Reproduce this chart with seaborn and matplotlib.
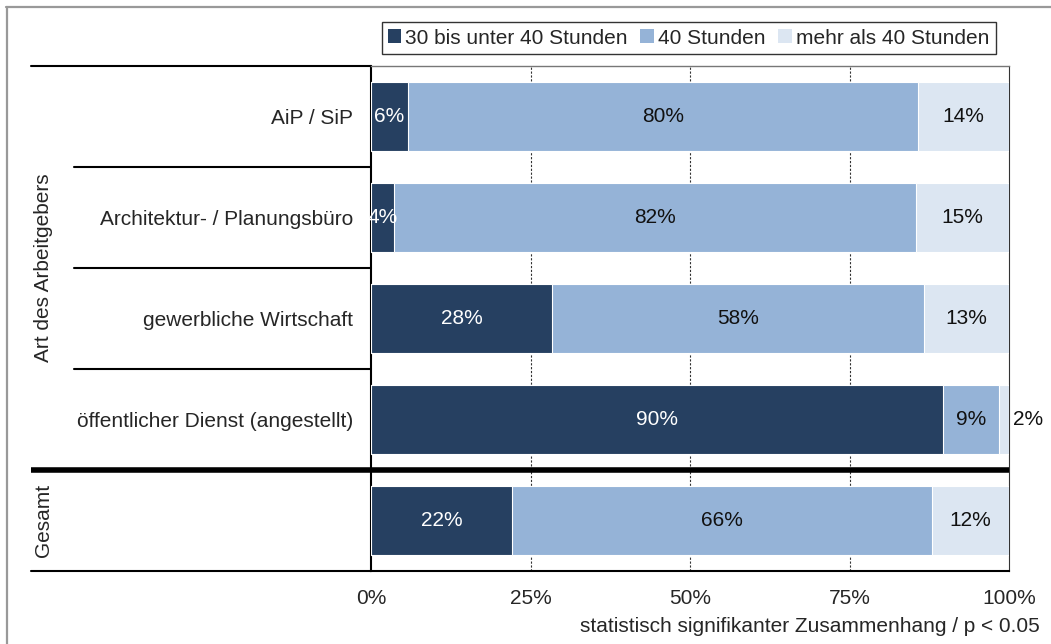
import matplotlib
matplotlib.use("Agg")
import matplotlib.pyplot as plt
import matplotlib.transforms as mtransforms
from matplotlib.patches import Patch
from matplotlib.lines import Line2D
import numpy as np
import pandas as pd
import seaborn as sns

# --- data -------------------------------------------------------------
row_keys = ["AiP / SiP", "Architektur- / Planungsbüro", "gewerbliche Wirtschaft",
            "öffentlicher Dienst (angestellt)", "Gesamt"]
row_labels = ["AiP / SiP", "Architektur- / Planungsbüro", "gewerbliche Wirtschaft",
              "öffentlicher Dienst (angestellt)", ""]
series_names = ["30 bis unter 40 Stunden", "40 Stunden", "mehr als 40 Stunden"]
h30_40 = [5.8, 3.6, 28.4, 89.6, 22.1]
h40 = [79.9, 81.8, 58.2, 8.8, 65.9]
h_over40 = [14.3, 14.6, 13.4, 1.6, 12.0]
x_ticks = [0, 25, 50, 75, 100]
x_tick_labels = ["0%", "25%", "50%", "75%", "100%"]
group_labels = ["Art des Arbeitgebers", "Gesamt"]
note = "statistisch signifikanter Zusammenhang / p < 0.05"

colors = ["#264061", "#95B3D7", "#DCE6F2"]
text_colors = ["white", "#111111", "#111111"]

# --- style ------------------------------------------------------------
sns.set_style("white")
plt.rcParams["font.family"] = ["Liberation Sans", "DejaVu Sans"]
FS = 15

W, H = 1051, 644
fig = plt.figure(figsize=(W / 100, H / 100), dpi=100)
ax = fig.add_axes([371 / W, 1 - 571 / H, (1009 - 371) / W, (571 - 66) / H])

series = [h30_40, h40, h_over40]
cums = np.cumsum(np.array(series), axis=0)

# stacked bars: draw cumulative totals from the outermost segment inwards
for i in range(len(series) - 1, -1, -1):
    df = pd.DataFrame({"row": row_keys, "value": cums[i]})
    sns.barplot(data=df, x="value", y="row", order=row_keys, orient="h",
                color=colors[i], width=0.69, edgecolor="white", linewidth=0.8,
                saturation=1, errorbar=None, ax=ax, zorder=3)

ax.set_xlim(0, 100)
ax.set_ylim(4.5, -0.5)
ax.set_xlabel("")
ax.set_ylabel("")

# segment value labels
for i, vals in enumerate(series):
    for r, v in enumerate(vals):
        end = cums[i][r]
        start = end - v
        label = f"{v:.0f}%"
        if v < 3:
            ax.annotate(label, xy=(end, r), xytext=(3, 0), textcoords="offset points",
                        ha="left", va="center", fontsize=FS, color="#111111",
                        annotation_clip=False, zorder=5)
        else:
            ax.text((start + end) / 2, r, label, ha="center", va="center",
                    fontsize=FS, color=text_colors[i], zorder=5)

# axes, ticks and grid
ax.set_xticks(x_ticks)
ax.set_xticklabels(x_tick_labels, fontsize=FS)
ax.set_yticks(range(len(row_labels)))
ax.set_yticklabels(row_labels, fontsize=FS)
ax.tick_params(axis="y", length=0, pad=13)
ax.tick_params(axis="x", length=4, color="#888888", pad=9, direction="out")
for x in x_ticks[1:-1]:
    ax.axvline(x, color="#333333", lw=0.8, ls=(0, (2, 1.5)), zorder=1)

for side in ["left", "bottom"]:
    ax.spines[side].set_color("black")
    ax.spines[side].set_linewidth(1.5)
ax.spines["top"].set_color("#777777")
ax.spines["top"].set_linewidth(1.0)
ax.spines["right"].set_color("#333333")
ax.spines["right"].set_linewidth(0.8)

# row table on the left
trans = mtransforms.blended_transform_factory(ax.transAxes, ax.transData)
x_outer = (31 - 371) / 638
x_inner = (74 - 371) / 638
ax.add_line(Line2D([x_outer, 0], [-0.5, -0.5], transform=trans, color="black",
                   lw=1.5, clip_on=False))
for yb in [0.5, 1.5, 2.5]:
    ax.add_line(Line2D([x_inner, 0], [yb, yb], transform=trans, color="black",
                       lw=1.5, clip_on=False))
ax.add_line(Line2D([x_outer, 1], [3.5, 3.5], transform=trans, color="black",
                   lw=4, clip_on=False, zorder=6, solid_capstyle="butt"))
ax.add_line(Line2D([x_outer, 0], [4.5, 4.5], transform=trans, color="black",
                   lw=1.5, clip_on=False))

x_group = (44 - 371) / 638
ax.text(x_group, 1.5, group_labels[0], transform=trans, rotation=90,
        ha="center", va="center", fontsize=FS)
ax.text(x_group, 4.0, group_labels[1], transform=trans, rotation=90,
        ha="center", va="center", fontsize=FS)

# legend
handles = [Patch(facecolor=c, edgecolor="none") for c in colors]
leg = fig.legend(handles, series_names, loc="center", ncol=3,
                 bbox_to_anchor=(688.5 / W, 1 - 38 / H), fontsize=FS,
                 frameon=True, fancybox=False, edgecolor="black",
                 handlelength=0.65, handleheight=0.65, handletextpad=0.2,
                 columnspacing=0.6, borderpad=0.3, borderaxespad=0)
leg.get_frame().set_linewidth(1.0)

# footnote
fig.text(1040 / W, 1 - 627 / H, note, ha="right", va="center", fontsize=FS)

# outer frame
fig.add_artist(Line2D([6.5 / W, 6.5 / W], [0, 1 - 7 / H], transform=fig.transFigure,
                      color="#999999", lw=1.6))
fig.add_artist(Line2D([6 / W, 1], [1 - 7 / H, 1 - 7 / H], transform=fig.transFigure,
                      color="#999999", lw=1.6))

fig.savefig("out.png", dpi=100)
